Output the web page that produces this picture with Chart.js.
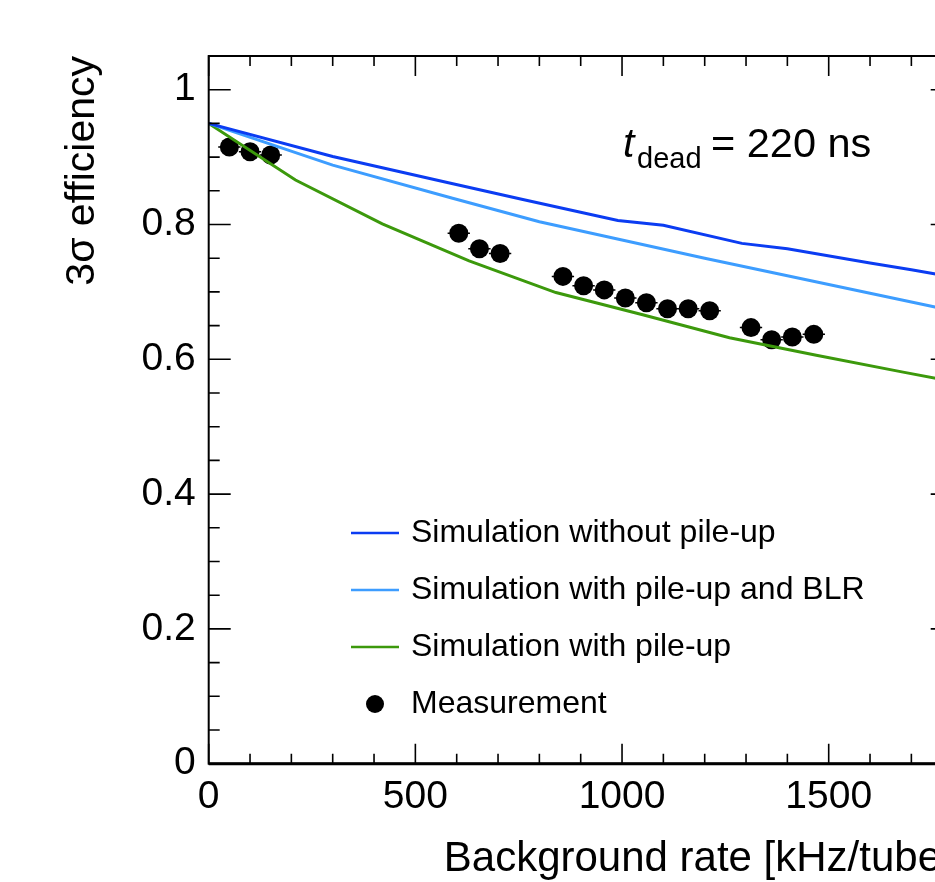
<!DOCTYPE html>
<html>
<head>
<meta charset="utf-8">
<title>3σ efficiency vs background rate</title>
<script src="https://cdn.jsdelivr.net/npm/chart.js@4.4.1/dist/chart.umd.min.js"></script>
<style>
    html, body { margin: 0; padding: 0; background: #fff; overflow: hidden; }
    #wrap { width: 935px; height: 882px; overflow: hidden; }
    canvas { display: block; }
</style>
</head>
<body>
<div id="wrap">
    <canvas id="chartCanvas" width="1000" height="882" style="width:1000px;height:882px"></canvas>
</div>
<script>
// 量測點 (kHz/tube, 效率, 水平誤差)
const measRate = [50, 100, 150, 605, 655, 705, 857, 907, 957, 1008, 1059, 1110, 1160, 1212, 1312, 1362, 1412, 1464];
const measEff = [0.915, 0.908, 0.903, 0.787, 0.764, 0.757, 0.723, 0.709, 0.703, 0.691, 0.684, 0.675, 0.675, 0.672, 0.647, 0.629, 0.633, 0.637];
const measRateErr = [27, 27, 27, 27, 27, 27, 27, 27, 27, 27, 27, 27, 27, 27, 27, 27, 27, 27];

// 模擬：無堆疊
const noPileupRate = [0, 300, 580, 760, 990, 1100, 1290, 1400, 1600, 1700, 1800];
const noPileupEff = [0.95, 0.901, 0.862, 0.837, 0.806, 0.799, 0.772, 0.764, 0.743, 0.733, 0.722];

// 模擬：有堆疊 + BLR
const blrRate = [0, 300, 590, 800, 1000, 1200, 1400, 1600, 1800];
const blrEff = [0.95, 0.888, 0.839, 0.804, 0.777, 0.750, 0.724, 0.698, 0.672];

// 模擬：有堆疊
const pileupRate = [0, 210, 420, 630, 840, 1050, 1260, 1470, 1680, 1800];
const pileupEff = [0.95, 0.866, 0.801, 0.746, 0.699, 0.666, 0.632, 0.606, 0.581, 0.567];

// 刻度標籤
const xTickValues = [0, 500, 1000, 1500];
const yTickValues = [0, 0.2, 0.4, 0.6, 0.8, 1];

// 軸範圍與細刻度
const xMin = 0, xMax = 1800, xMajor = 500, xMinor = 100;
const yMin = 0, yMax = 1.05, yMajor = 0.2, yMinor = 0.05;

const FONT = '"Liberation Sans", Arial, Helvetica, sans-serif';
const colors = {
    noPileup: '#0b3cf2',
    blr: '#3d9dff',
    pileup: '#3c990c',
    meas: '#000000'
};

function toXY(xs, ys) {
    return xs.map((v, i) => ({ x: v, y: ys[i] }));
}

// ROOT 風格外框與內向刻度
const rootFrame = {
    id: 'rootFrame',
    afterDatasetsDraw(chart) {
        const { ctx, chartArea: a, scales: { x, y } } = chart;
        ctx.save();
        ctx.strokeStyle = '#000';
        ctx.lineWidth = 1.6;
        ctx.beginPath();
        const nx = Math.round((xMax - xMin) / xMinor);
        for (let i = 0; i <= nx; i++) {
            const v = xMin + i * xMinor;
            const px = x.getPixelForValue(v);
            const len = (v % xMajor === 0) ? 20 : 10;
            ctx.moveTo(px, a.bottom); ctx.lineTo(px, a.bottom - len);
            ctx.moveTo(px, a.top); ctx.lineTo(px, a.top + len);
        }
        const ny = Math.floor((yMax - yMin) / yMinor + 1e-6);
        for (let i = 0; i <= ny; i++) {
            const v = yMin + i * yMinor;
            const py = y.getPixelForValue(v);
            const len = (i % Math.round(yMajor / yMinor) === 0) ? 22 : 11;
            ctx.moveTo(a.left, py); ctx.lineTo(a.left + len, py);
            ctx.moveTo(a.right, py); ctx.lineTo(a.right - len, py);
        }
        ctx.stroke();
        ctx.lineWidth = 2;
        ctx.strokeRect(a.left, a.top, a.right - a.left, a.bottom - a.top);
        ctx.lineWidth = 3;
        ctx.beginPath();
        ctx.moveTo(a.left, a.bottom); ctx.lineTo(a.right, a.bottom);
        ctx.stroke();
        ctx.restore();
    }
};

// 量測點的水平誤差棒
const errorBars = {
    id: 'errorBars',
    beforeDatasetsDraw(chart) {
        const { ctx, scales: { x, y } } = chart;
        ctx.save();
        ctx.strokeStyle = '#000';
        ctx.lineWidth = 1.5;
        ctx.beginPath();
        measRate.forEach((r, i) => {
            const py = y.getPixelForValue(measEff[i]);
            ctx.moveTo(x.getPixelForValue(r - measRateErr[i]), py);
            ctx.lineTo(x.getPixelForValue(r + measRateErr[i]), py);
        });
        ctx.stroke();
        ctx.restore();
    }
};

// 圖例與 t_dead 標註
const rootLegend = {
    id: 'rootLegend',
    afterDraw(chart) {
        const ctx = chart.ctx;
        const left = 351, top = 533, row = 57, sample = 48, gap = 12;
        ctx.save();
        ctx.font = '32px ' + FONT;
        ctx.textBaseline = 'middle';
        ctx.textAlign = 'left';
        chart.data.datasets.forEach((ds, i) => {
            const cy = top + i * row;
            if (ds.showLine) {
                ctx.strokeStyle = ds.borderColor;
                ctx.lineWidth = 2.5;
                ctx.beginPath();
                ctx.moveTo(left, cy); ctx.lineTo(left + sample, cy);
                ctx.stroke();
            } else {
                ctx.fillStyle = ds.backgroundColor;
                ctx.beginPath();
                ctx.arc(left + sample / 2, cy, 9, 0, Math.PI * 2);
                ctx.fill();
            }
            ctx.fillStyle = '#000';
            ctx.fillText(ds.label, left + sample + gap, cy);
        });

        // t_dead = 220 ns
        ctx.textBaseline = 'alphabetic';
        ctx.font = 'italic 41px ' + FONT;
        ctx.fillText('t', 623, 157);
        ctx.font = '29px ' + FONT;
        ctx.fillText('dead', 637, 168);
        ctx.font = '41.5px ' + FONT;
        ctx.fillText('= 220 ns', 711, 157);
        ctx.restore();
    }
};

const canvas = document.getElementById('chartCanvas');
new Chart(canvas, {
    type: 'scatter',
    data: {
        datasets: [
            {
                label: 'Simulation without pile-up',
                data: toXY(noPileupRate, noPileupEff),
                showLine: true,
                borderColor: colors.noPileup,
                backgroundColor: colors.noPileup,
                borderWidth: 3,
                pointRadius: 0,
                tension: 0
            },
            {
                label: 'Simulation with pile-up and BLR',
                data: toXY(blrRate, blrEff),
                showLine: true,
                borderColor: colors.blr,
                backgroundColor: colors.blr,
                borderWidth: 3,
                pointRadius: 0,
                tension: 0
            },
            {
                label: 'Simulation with pile-up',
                data: toXY(pileupRate, pileupEff),
                showLine: true,
                borderColor: colors.pileup,
                backgroundColor: colors.pileup,
                borderWidth: 3,
                pointRadius: 0,
                tension: 0
            },
            {
                label: 'Measurement',
                data: toXY(measRate, measEff),
                showLine: false,
                borderColor: colors.meas,
                backgroundColor: colors.meas,
                borderWidth: 0,
                pointRadius: 9.5
            }
        ]
    },
    options: {
        responsive: false,
        animation: false,
        events: [],
        layout: { padding: { left: 0, top: 56, right: 47.3, bottom: 0 } },
        plugins: {
            legend: { display: false },
            tooltip: { enabled: false }
        },
        scales: {
            x: {
                type: 'linear',
                min: xMin,
                max: xMax,
                afterFit(scale) { scale.height = 118.3; },
                afterBuildTicks(scale) {
                    scale.ticks = xTickValues.map(v => ({ value: v }));
                },
                grid: { display: false },
                border: { display: false },
                ticks: {
                    autoSkip: false,
                    padding: 2,
                    color: '#000',
                    maxRotation: 0,
                    font: { family: FONT, size: 39 },
                    callback: v => String(v)
                },
                title: {
                    display: true,
                    text: 'Background rate [kHz/tube]',
                    align: 'end',
                    color: '#000',
                    font: { family: FONT, size: 42, lineHeight: 1 },
                    padding: { top: 0, bottom: 2 }
                }
            },
            y: {
                type: 'linear',
                min: yMin,
                max: yMax,
                afterFit(scale) { scale.width = 208.7; },
                afterBuildTicks(scale) {
                    scale.ticks = yTickValues.map(v => ({ value: v }));
                },
                grid: { display: false },
                border: { display: false },
                ticks: {
                    autoSkip: false,
                    padding: 5,
                    color: '#000',
                    font: { family: FONT, size: 39 },
                    callback: v => String(+v.toFixed(1))
                },
                title: {
                    display: true,
                    text: '3σ efficiency',
                    align: 'end',
                    color: '#000',
                    font: { family: FONT, size: 41, lineHeight: 1 },
                    padding: { top: 62, bottom: 0 }
                }
            }
        }
    },
    plugins: [errorBars, rootFrame, rootLegend]
});
</script>
</body>
</html>
